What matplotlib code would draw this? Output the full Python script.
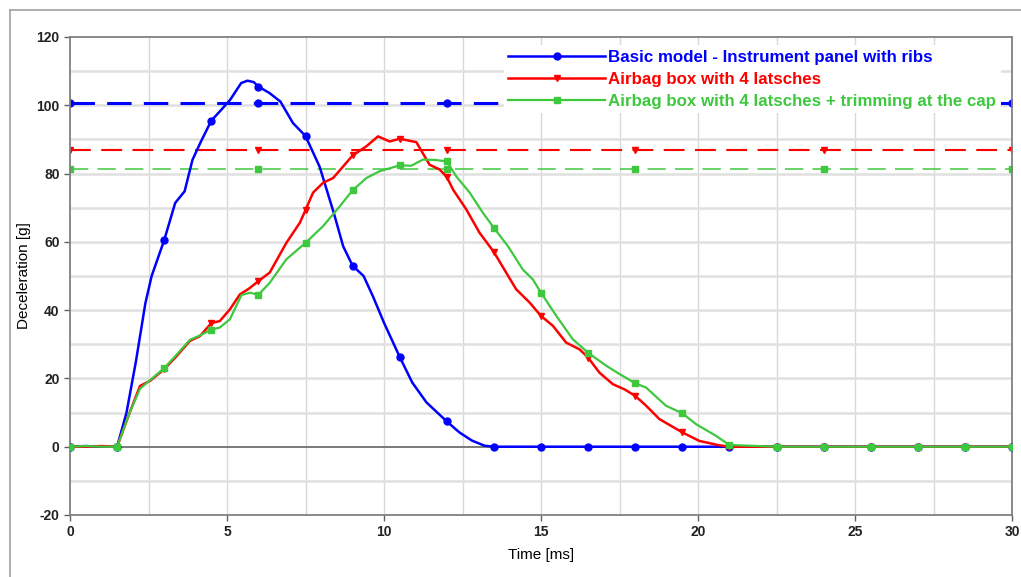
import matplotlib
matplotlib.use("Agg")
import matplotlib.pyplot as plt
from matplotlib.lines import Line2D
import numpy as np

plt.rcParams['font.family'] = ['Liberation Sans', 'DejaVu Sans']
plt.rcParams['axes.unicode_minus'] = False

# --- data ---
t_blue = [0, 0.5, 1.0, 1.5, 1.8, 2.1, 2.4, 2.6, 3.0, 3.35, 3.65, 3.9, 4.15, 4.5, 4.8,
          5.1, 5.45, 5.65, 5.85, 6.0, 6.35, 6.7, 7.1, 7.5, 7.95, 8.4, 8.7, 9.0, 9.35,
          9.65, 10.0, 10.5, 10.9, 11.35, 12.0, 12.4, 12.8, 13.2, 13.5, 15.0, 16.5,
          18.0, 19.5, 21.0, 22.5, 24.0, 25.5, 27.0, 28.5, 30.0]
a_blue = [0, 0.2, 0, 0, 10, 25, 42, 50, 60.5, 71.4, 74.8, 84, 89, 95.5, 98.5,
          101.6, 106.5, 107.2, 106.8, 105.5, 103.6, 101.1, 94.8, 91, 82, 68.5, 58.7, 53, 50,
          44, 36.3, 26.3, 18.8, 13, 7.4, 4.2, 1.8, 0.3, 0, 0, 0,
          0, 0, 0, 0, 0, 0, 0, 0, 0]

t_red = [0, 0.5, 1.0, 1.5, 1.9, 2.23, 2.55, 3.0, 3.4, 3.82, 4.14, 4.5, 4.77, 5.09,
         5.41, 5.7, 6.0, 6.36, 6.89, 7.32, 7.5, 7.74, 8.06, 8.38, 8.7, 9.0, 9.44, 9.81,
         10.18, 10.5, 11.03, 11.45, 11.77, 12.0, 12.2, 12.62, 13.04, 13.5, 13.89, 14.21,
         14.64, 15.0, 15.38, 15.8, 16.23, 16.5, 16.86, 17.29, 17.66, 18.0, 18.35, 18.77,
         19.5, 20.04, 20.68, 21.0, 22.5, 24.0, 25.5, 27.0, 28.5, 30.0]
a_red = [0, 0, 0.2, 0, 10, 17.8, 19.3, 22.7, 26.6, 31, 32.4, 36.2, 36.8, 40.2,
         44.6, 46.3, 48.5, 51, 59.7, 65.6, 69.3, 74.4, 77.3, 78.7, 82.1, 85.3, 88, 90.9,
         89.4, 90.2, 89.2, 82.6, 81.2, 79, 75.3, 69.5, 62.7, 57, 51, 46.1,
         42.2, 38.3, 35.4, 30.5, 28.5, 26.1, 21.7, 18.3, 16.8, 14.9, 12, 8.1,
         4.2, 1.7, 0.4, 0, 0, 0, 0, 0, 0, 0]

t_green = [0, 0.5, 1.0, 1.5, 1.9, 2.23, 2.55, 3.0, 3.4, 3.82, 4.14, 4.5, 4.77, 5.09,
           5.46, 5.73, 6.0, 6.36, 6.89, 7.5, 8.06, 8.59, 9.0, 9.44, 9.86, 10.5, 10.87,
           11.24, 11.6, 12.0, 12.3, 12.73, 13.15, 13.5, 13.95, 14.42, 14.74, 15.0, 15.49,
           16.01, 16.5, 17.08, 17.5, 18.0, 18.35, 18.98, 19.5, 19.94, 20.57, 21.0, 22.5,
           24.0, 25.5, 27.0, 28.5, 30.0]
a_green = [0, 0.2, 0, 0, 10, 17, 19.5, 23, 27, 31.3, 32.6, 34.3, 34.9, 37.3,
           44.4, 45.1, 44.5, 48, 54.9, 59.7, 64.6, 70.4, 75.1, 78.7, 80.7, 82.4, 82.3,
           84.1, 84.0, 83.6, 79.2, 74.4, 68.5, 64.1, 58.7, 51.9, 49, 45.1, 38.3,
           31.5, 27.5, 23.7, 21.3, 18.6, 17.3, 12, 9.8, 6.6, 3.2, 0.5, 0,
           0, 0, 0, 0, 0]

# horizontal reference levels (dashed)
t_ref = [0, 6, 12, 18, 24, 30]
lvl_blue = 100.7
lvl_red = 87.0
lvl_green = 81.3

labels = ['Basic model - Instrument panel with ribs',
          'Airbag box with 4 latsches',
          'Airbag box with 4 latsches + trimming at the cap']

c_blue = '#0000ff'
c_red = '#ff0000'
c_green = '#3ec83e'

fig = plt.figure(figsize=(10.21, 5.77), dpi=100)
ax = fig.add_axes([70/1021, 1-515/577, (1012-70)/1021, (515-37)/577])

# outer frame, only the top and left edges are inside the picture
fy = 1 - 10/577
fx = 10/1021
fig.add_artist(Line2D([fx, fx], [0, fy], transform=fig.transFigure,
                      color='#a0a0a0', lw=1.2))
fig.add_artist(Line2D([fx, 1], [fy, fy], transform=fig.transFigure,
                      color='#a0a0a0', lw=1.2))

# grid
for x in np.arange(2.5, 30, 2.5):
    ax.axvline(x, color='#d8d8d8', linewidth=1, zorder=0)
for y in np.arange(-10, 120, 10):
    if y == 0:
        continue
    ax.axhline(y, color='#e0e0e0', linewidth=1.8, zorder=0)
ax.axhline(0, color='#707070', linewidth=1.3, zorder=1)


def mark_idx(t):
    return [i for i, v in enumerate(t) if abs(v / 1.5 - round(v / 1.5)) < 1e-6]


ax.plot(t_ref, [lvl_blue]*len(t_ref), color=c_blue, lw=2.2, ls=(0, (8, 4)),
        marker='o', ms=5, zorder=2)
ax.plot(t_ref, [lvl_red]*len(t_ref), color=c_red, lw=1.5, ls=(0, (10, 5)),
        marker='v', ms=5, zorder=2)
ax.plot(t_ref, [lvl_green]*len(t_ref), color=c_green, lw=1.1, ls=(0, (12, 6)),
        marker='s', ms=4, zorder=2)

l1, = ax.plot(t_blue, a_blue, color=c_blue, lw=1.8, marker='o', ms=5,
              markevery=mark_idx(t_blue), zorder=3, label=labels[0])
l2, = ax.plot(t_red, a_red, color=c_red, lw=1.8, marker='v', ms=5,
              markevery=mark_idx(t_red), zorder=3, label=labels[1])
l3, = ax.plot(t_green, a_green, color=c_green, lw=1.6, marker='s', ms=4,
              markevery=mark_idx(t_green), zorder=4, label=labels[2])

ax.set_xlim(0, 30)
ax.set_ylim(-20, 120)
ax.set_xticks(np.arange(0, 31, 5))
ax.set_yticks(np.arange(-20, 121, 20))
ax.tick_params(labelsize=10, length=4, color='#606060', width=1)
for lab in ax.get_xticklabels() + ax.get_yticklabels():
    lab.set_fontweight('bold')
    lab.set_color('#222222')
for s in ax.spines.values():
    s.set_color('#808080')
    s.set_linewidth(1.3)

ax.set_xlabel('Time [ms]', fontsize=11, labelpad=6)
ax.set_ylabel('Deceleration [g]', fontsize=11, labelpad=4)

leg = ax.legend(handles=[l1, l2, l3], loc='upper right',
                bbox_to_anchor=(0.997, 1.0), frameon=True, numpoints=1,
                handlelength=5.7, handletextpad=0.2, borderpad=0.25,
                labelspacing=0.42, prop={'weight': 'bold', 'size': 12.2})
leg.get_frame().set_edgecolor('none')
leg.get_frame().set_facecolor('white')
leg.get_frame().set_alpha(1)
leg.set_zorder(10)
for txt, c in zip(leg.get_texts(), [c_blue, c_red, c_green]):
    txt.set_color(c)

fig.savefig('out.png', dpi=100)
